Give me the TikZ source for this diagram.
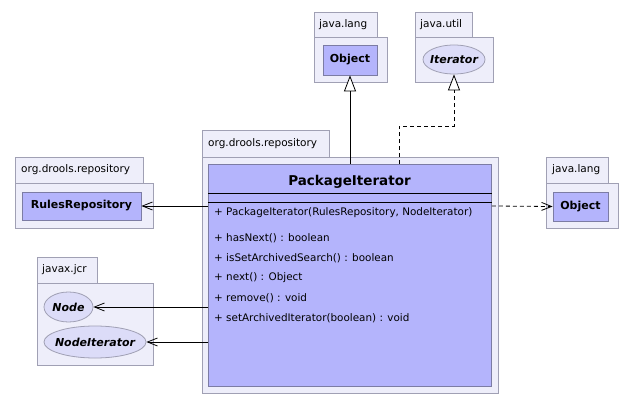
\documentclass[tikz,border=0pt]{standalone}
\usepackage{fontspec}
\setmainfont{DejaVu Sans}
\usetikzlibrary{arrows.meta,shapes.geometric}
\definecolor{pkgfill}{HTML}{EEEEFA}
\definecolor{pkgdraw}{HTML}{A0A0B4}
\definecolor{clsfill}{HTML}{B4B4FC}
\definecolor{clsdraw}{HTML}{7C7CA4}
\definecolor{ifill}{HTML}{DCDCF8}
\tikzset{
  pkg/.style={draw=pkgdraw, fill=pkgfill, line width=0.8pt, inner sep=0pt, anchor=north west},
  pkgtext/.style={font=\fontsize{10.5}{12}\selectfont, anchor=west, inner sep=0pt},
  cls/.style={draw=clsdraw, fill=clsfill, line width=0.8pt, inner sep=0pt, anchor=north west, font=\bfseries\fontsize{11}{13}\selectfont},
  iface/.style={draw=pkgdraw, fill=ifill, ellipse, line width=0.8pt, inner sep=-25pt, font=\bfseries\itshape\fontsize{11}{13}\selectfont},
  op/.style={font=\fontsize{10.4}{12}\selectfont, anchor=west, inner sep=0pt},
  dsh/.style={dash pattern=on 4pt off 3pt},
  dep/.style={-{Straight Barb[length=10pt,width=8pt]}, line width=0.8pt},
  gen/.style={-{Triangle[open,length=16pt,width=12pt,fill=white]}, line width=0.8pt},
}
\begin{document}
\begin{tikzpicture}[x=1pt,y=-1pt]
\useasboundingbox[fill=white] (0,0) rectangle (635,404);
% ---- java.lang (top)
\node[pkg, minimum width=63pt, minimum height=25pt] (jltab) at (314,12) {};
\node[pkgtext] at (319,24.5) {java.lang};
\node[pkg, minimum width=73pt, minimum height=45pt] (jlbody) at (314,37) {};
\node[cls, minimum width=54pt, minimum height=30pt, anchor=center] (obj) at (350,60) {Object};
% ---- java.util
\node[pkg, minimum width=57pt, minimum height=25pt] (jutab) at (415,12) {};
\node[pkgtext] at (420,24.5) {java.util};
\node[pkg, minimum width=78pt, minimum height=45pt] (jubody) at (415,37) {};
\node[iface, minimum width=62pt, minimum height=29pt] (it) at (454,59.5) {Iterator};
% ---- org.drools.repository (main)
\node[pkg, minimum width=127pt, minimum height=27pt] (mtab) at (202,130) {};
\node[pkgtext] at (208,143.5) {org.drools.repository};
\node[pkg, minimum width=296pt, minimum height=236pt] (mbody) at (202,157) {};
\node[draw=clsdraw, fill=clsfill, line width=0.8pt, inner sep=0pt, anchor=north west, minimum width=283pt, minimum height=222pt] (cls) at (208,164) {};
\node[font=\bfseries\fontsize{13.5}{16}\selectfont, inner sep=0pt] (title) at (349.5,181.5) {PackageIterator};
\draw[line width=0.8pt] (cls.west |- 0,193) coordinate (l1a) -- (cls.east |- l1a);
\draw[line width=0.8pt] (cls.west |- 0,202) coordinate (l2a) -- (cls.east |- l2a);
\node[op] (o1) at (214,213) {+ PackageIterator(RulesRepository, NodeIterator)};
\node[op] (o2) at (214,238) {+ hasNext() : boolean};
\node[op] (o3) at (214,258) {+ isSetArchivedSearch() : boolean};
\node[op] (o4) at (214,278) {+ next() : Object};
\node[op] (o5) at (214,298) {+ remove() : void};
\node[op] (o6) at (214,318) {+ setArchivedIterator(boolean) : void};
% ---- org.drools.repository (left)
\node[pkg, minimum width=128pt, minimum height=26pt] (rtab) at (15,157) {};
\node[pkgtext] at (21,170) {org.drools.repository};
\node[pkg, minimum width=138pt, minimum height=45pt] (rbody) at (15,183) {};
\node[cls, minimum width=119pt, minimum height=28pt, anchor=center] (rr) at (81.5,206) {RulesRepository};
% ---- javax.jcr
\node[pkg, minimum width=60pt, minimum height=26pt] (jxtab) at (37,257) {};
\node[pkgtext] at (42,270) {javax.jcr};
\node[pkg, minimum width=116pt, minimum height=82pt] (jxbody) at (37,283) {};
\node[iface, minimum width=49pt, minimum height=30pt] (nd) at (68.5,307) {Node};
\node[iface, minimum width=102pt, minimum height=32pt] (nit) at (95,342) {NodeIterator};
% ---- java.lang (right)
\node[pkg, minimum width=62pt, minimum height=26pt] (jrtab) at (546,157) {};
\node[pkgtext] at (552,170) {java.lang};
\node[pkg, minimum width=72pt, minimum height=45pt] (jrbody) at (546,183) {};
\node[cls, minimum width=55pt, minimum height=29pt, anchor=center] (objr) at (580.5,206.5) {Object};
% ---- connectors
\draw[dep] (cls.west |- rr) -- (rr.east);
\draw[dep, dsh] (cls.east |- rr) -- (objr.west);
\draw[dep] (cls.west |- nd) -- (nd.east);
\draw[dep] (cls.west |- nit) -- (nit.east);
\draw[gen] (cls.north -| obj) -- (obj.south);
\coordinate (bend) at (399,126);
\draw[gen, dsh] (cls.north -| bend) -- (bend) -- (bend -| it) -- (it.south);
\end{tikzpicture}
\end{document}
